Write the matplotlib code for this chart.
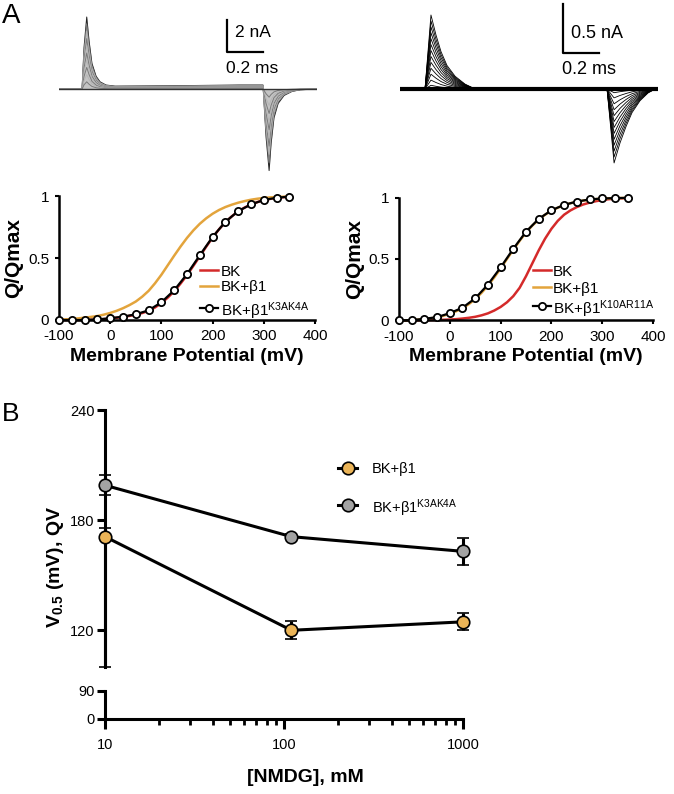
import matplotlib
matplotlib.use("Agg")
import matplotlib.pyplot as plt
from matplotlib.lines import Line2D
from matplotlib import font_manager

# ---- data -----------------------------------------------------------------
# panel A, gating current traces (largest trace; ms, nA)
left_t = [0, 0.128, 0.139, 0.154, 0.167, 0.183, 0.206, 0.228, 0.261, 0.311,
          0.6, 1.0, 1.133, 1.150, 1.167, 1.178, 1.194, 1.217, 1.250, 1.294,
          1.339, 1.433]
left_i = [0, 0, 2.6, 4.5, 3.0, 1.6, 0.8, 0.45, 0.25, 0.18,
          0.2, 0.25, 0.25, -3.0, -5.1, -3.4, -1.8, -0.9, -0.4, -0.15,
          -0.05, 0]
right_t = [0, 0.139, 0.172, 0.200, 0.228, 0.261, 0.306, 0.361, 0.417,
           1.150, 1.189, 1.222, 1.256, 1.289, 1.333, 1.378, 1.417, 1.433]
right_i = [0, 0, 0.755, 0.55, 0.38, 0.24, 0.13, 0.05, 0,
           0, -0.755, -0.55, -0.38, -0.24, -0.12, -0.04, 0, 0]
# relative size of each trace in the family
left_fracs = [1.0, 0.9, 0.8, 0.7, 0.6, 0.5, 0.4, 0.3, 0.2, 0.1]
right_fracs = [1.0, 0.92, 0.84, 0.76, 0.68, 0.6, 0.52, 0.44, 0.36, 0.28,
               0.2, 0.12, 0.05]

# panel A, Q-V data points (mV, Q/Qmax)
qv_v = [-100, -75, -50, -25, 0, 25, 50, 75, 100, 125, 150, 175, 200, 225,
        250, 275, 300, 325, 350]
left_mut = [0, 0, 0, 0.005, 0.014, 0.027, 0.046, 0.078, 0.143, 0.24,
            0.370, 0.522, 0.670, 0.792, 0.878, 0.932, 0.968, 0.986, 0.995]
right_mut = [0, 0.003, 0.014, 0.027, 0.06, 0.104, 0.18, 0.292, 0.431, 0.583,
             0.722, 0.826, 0.896, 0.94, 0.967, 0.984, 0.992, 0.995, 0.997]

# panel A, fitted curves read every 12.5 mV
fit_v = [-100, -87.5, -75, -62.5, -50, -37.5, -25, -12.5, 0, 12.5, 25, 37.5,
         50, 62.5, 75, 87.5, 100, 112.5, 125, 137.5, 150, 162.5, 175, 187.5,
         200, 212.5, 225, 237.5, 250, 262.5, 275, 287.5, 300, 312.5, 325,
         337.5, 350]
left_bk = [0, 0, 0, 0, 0.001, 0.002, 0.004, 0.007, 0.012, 0.018, 0.025,
           0.033, 0.043, 0.056, 0.074, 0.101, 0.136, 0.181, 0.232, 0.294,
           0.362, 0.437, 0.514, 0.591, 0.665, 0.731, 0.789, 0.836, 0.876,
           0.907, 0.931, 0.951, 0.967, 0.977, 0.985, 0.99, 0.994]
left_b1 = [0.003, 0.005, 0.008, 0.013, 0.019, 0.025, 0.032, 0.043, 0.057,
           0.074, 0.095, 0.12, 0.149, 0.188, 0.235, 0.296, 0.365, 0.442,
           0.519, 0.593, 0.662, 0.723, 0.776, 0.82, 0.857, 0.887, 0.911,
           0.93, 0.946, 0.959, 0.97, 0.978, 0.984, 0.989, 0.992, 0.994, 0.995]
right_bk = [0, 0, 0, 0.001, 0.002, 0.003, 0.004, 0.006, 0.008, 0.011, 0.016,
            0.022, 0.03, 0.042, 0.058, 0.081, 0.11, 0.148, 0.198, 0.266,
            0.36, 0.465, 0.57, 0.665, 0.745, 0.81, 0.86, 0.895, 0.922,
            0.943, 0.958, 0.97, 0.979, 0.986, 0.99, 0.993, 0.995]
right_b1 = [0, 0.001, 0.003, 0.007, 0.013, 0.018, 0.025, 0.038, 0.056, 0.075,
            0.1, 0.133, 0.174, 0.225, 0.284, 0.35, 0.423, 0.5, 0.575, 0.648,
            0.715, 0.772, 0.82, 0.86, 0.892, 0.917, 0.937, 0.953, 0.965,
            0.975, 0.982, 0.987, 0.991, 0.993, 0.995, 0.996, 0.997]

# panel B, V0.5 vs [NMDG]
nmdg = [10, 110, 1000]
b1_v = [171, 120, 124.6]
b1_err_lo = [71, 5, 4.7]
b1_err_hi = [4.6, 5, 4.7]
mut_v = [199, 171, 163]
mut_err = [5.5, 1.5, 7.5]

RED = "#d42a2a"
ORANGE = "#e3a43c"
FILL_OR = "#ebb457"
FILL_GR = "#a3a3a3"

names = {f.name for f in font_manager.fontManager.ttflist}
NARROW = "Liberation Sans Narrow" if "Liberation Sans Narrow" in names else "Liberation Sans"
B_FS = 11 if NARROW == "Liberation Sans Narrow" else 10.5

plt.rcParams["font.family"] = ["Liberation Sans", "DejaVu Sans"]
plt.rcParams["axes.unicode_minus"] = False
plt.rcParams["mathtext.fontset"] = "custom"
plt.rcParams["mathtext.rm"] = "Liberation Sans"
plt.rcParams["mathtext.bf"] = "Liberation Sans:bold"
plt.rcParams["mathtext.default"] = "regular"

W, H = 674, 794
fig = plt.figure(figsize=(W / 100, H / 100), dpi=100)


def px_axes(x0, y0, x1, y1):
    return fig.add_axes([x0 / W, 1 - y1 / H, (x1 - x0) / W, (y1 - y0) / H])


def key_row(x0, x1, y, tx, label, color="k", lw=1.8, marker=None, ms=5.2,
            mfc="white", mew=1.3, fs=11, family=None):
    fig.add_artist(Line2D([x0 / W, x1 / W], [1 - y / H, 1 - y / H],
                          transform=fig.transFigure, color=color, lw=lw))
    if marker:
        fig.add_artist(Line2D([(x0 + x1) / 2 / W], [1 - y / H],
                              transform=fig.transFigure, marker=marker, ms=ms,
                              mfc=mfc, mec="k", mew=mew, ls="none"))
    kw = {"family": family} if family else {}
    fig.text(tx / W, 1 - y / H, label, va="center_baseline", ha="left",
             fontsize=fs, **kw)


# ---- traces ----------------------------------------------------------------
axl = px_axes(59, 0, 317, 180)
axl.set_xlim(0, 1.433)
axl.set_ylim(-91 / 16, 89 / 16)
axl.fill_between(left_t, left_i, 0, color="#c4c4c4", lw=0)
for k, f in enumerate(left_fracs):
    c = "#222222" if k == 0 else ("#7a7a7a" if k % 2 else "#b5b5b5")
    axl.plot(left_t, [v * f for v in left_i], color=c, lw=0.7)
axl.plot([0, 1.433], [0, 0], color="#333333", lw=1.0)
axl.plot([0.933, 0.933, 1.133], [4.3125, 2.3125, 2.3125], color="k", lw=1.6)
axl.text(0.975, 3.56, "2 nA", fontsize=12.5, va="center", ha="left")
axl.text(0.925, 1.31, "0.2 ms", fontsize=12.5, va="center", ha="left")
axl.axis("off")

axr = px_axes(400, 0, 658, 180)
axr.set_xlim(0, 1.433)
axr.set_ylim(-91 / 98, 89 / 98)
for f in right_fracs:
    axr.plot(right_t, [v * f for v in right_i], color="k", lw=0.6)
axr.plot([0, 1.433], [0, 0], color="k", lw=3.0)
axr.plot([0.906, 0.906, 1.106], [0.867, 0.367, 0.367], color="k", lw=1.6)
axr.text(0.95, 0.571, "0.5 nA", fontsize=13, va="center", ha="left")
axr.text(0.9, 0.194, "0.2 ms", fontsize=13, va="center", ha="left")
axr.axis("off")


# ---- Q-V panels ------------------------------------------------------------
def qv_panel(box, bk, b1, mut, ylab_x):
    ax = px_axes(*box)
    ax.plot(fit_v, bk, color=RED, lw=1.8, clip_on=False, zorder=2)
    ax.plot(fit_v, b1, color=ORANGE, lw=1.8, clip_on=False, zorder=2)
    ax.plot(qv_v, mut, color="k", lw=1.6, marker="o", ms=5.2, mfc="white",
            mec="k", mew=1.3, clip_on=False, zorder=3)
    ax.set_xlim(-100, 400)
    ax.set_ylim(0, 1)
    ax.set_xticks([-100, 0, 100, 200, 300, 400])
    ax.set_yticks([0, 0.5, 1])
    ax.set_yticklabels(["0", "0.5", "1"])
    for s in ("top", "right"):
        ax.spines[s].set_visible(False)
    for s in ("left", "bottom"):
        ax.spines[s].set_linewidth(1.8)
    ax.tick_params(length=3, width=1.5, labelsize=11)
    ax.tick_params(axis="y", pad=4)
    ax.tick_params(axis="x", pad=3.5)
    ax.set_xlabel("Membrane Potential (mV)", fontsize=14, fontweight="bold")
    ax.set_ylabel("Q/Qmax", fontsize=15, fontweight="bold")
    x0, y0, x1, y1 = box
    ax.xaxis.set_label_coords(0.5, -(357 - y1) / (y1 - y0))
    ax.yaxis.set_label_coords(-(x0 - ylab_x) / (x1 - x0), 0.5)
    ax.xaxis.label.set_va("center")
    ax.yaxis.label.set_va("center")
    return ax


qv_panel((59, 196, 315, 320), left_bk, left_b1, left_mut, 14)
qv_panel((399, 197.5, 653, 320.5), right_bk, right_b1, right_mut, 355)

key_row(200, 218, 270, 221, "BK", color=RED)
key_row(200, 218, 286, 221, "BK+β1", color=ORANGE)
key_row(200, 218, 308, 221, "BK+β1$^{K3AK4A}$", lw=1.6, marker="o")
key_row(533, 551, 270, 553, "BK", color=RED)
key_row(533, 551, 287, 553, "BK+β1", color=ORANGE)
key_row(533, 551, 306, 553, "BK+β1$^{K10AR11A}$", lw=1.6, marker="o")

# ---- panel B ---------------------------------------------------------------
axb = px_axes(105, 410, 463, 667)
axb0 = px_axes(105, 691, 463, 719)
for a in (axb, axb0):
    a.set_xscale("log")
    a.set_xlim(10, 1000)
    for s in ("top", "right"):
        a.spines[s].set_visible(False)
    a.spines["left"].set_linewidth(2.2)
    a.spines["bottom"].set_linewidth(2.2)
    a.tick_params(axis="both", which="major", length=6, width=2.2, pad=1.5)
    a.tick_params(axis="x", which="minor", length=4, width=2.0)
axb.set_ylim(100, 240)
axb.spines["bottom"].set_visible(False)
axb.tick_params(axis="x", which="both", bottom=False, labelbottom=False)
axb.set_yticks([120, 180, 240])
axb0.set_ylim(0, 90)
axb0.set_yticks([0, 90])
axb0.set_xticks([10, 100, 1000])
axb0.set_xticklabels(["10", "100", "1000"])
axb0.tick_params(axis="x", which="major", length=7.5, pad=6)
for a in (axb, axb0):
    for lab in a.get_xticklabels() + a.get_yticklabels():
        lab.set_fontfamily(NARROW)
        lab.set_fontsize(B_FS)

eb1 = axb.errorbar(nmdg, b1_v, yerr=[b1_err_lo, b1_err_hi], color="k", lw=2.2,
                   marker="o", ms=9, mfc=FILL_OR, mec="k", mew=1.2,
                   capsize=4, capthick=2.2, elinewidth=2.2, zorder=3)
eb2 = axb.errorbar(nmdg, mut_v, yerr=mut_err, color="k", lw=2.2,
                   marker="o", ms=9, mfc=FILL_GR, mec="k", mew=1.2,
                   capsize=4, capthick=2.2, elinewidth=2.2, zorder=3)
for eb in (eb1, eb2):
    for art in eb.get_children():
        art.set_clip_on(False)

key_row(338, 357, 468, 372, "BK+β1", lw=2.2, marker="o", ms=9, mfc=FILL_OR,
        mew=1.2, fs=B_FS, family=NARROW)
key_row(338, 357, 505, 372, "BK+β1$^{K3AK4A}$", lw=2.2, marker="o", ms=9,
        mfc=FILL_GR, mew=1.2, fs=B_FS, family=NARROW)

fig.text(55 / W, 1 - 567 / H, r"$\mathbf{V_{0.5}}$ (mV), QV", rotation=90,
         ha="center", va="center", fontsize=14, fontweight="bold")
fig.text(305 / W, 1 - 778 / H, "[NMDG], mM", ha="center", va="center",
         fontsize=14, fontweight="bold")

fig.text(2 / W, 1 - 16 / H, "A", fontsize=20, va="center", ha="left")
fig.text(2 / W, 1 - 414 / H, "B", fontsize=19, va="center", ha="left")

fig.savefig("out.png", dpi=100)
